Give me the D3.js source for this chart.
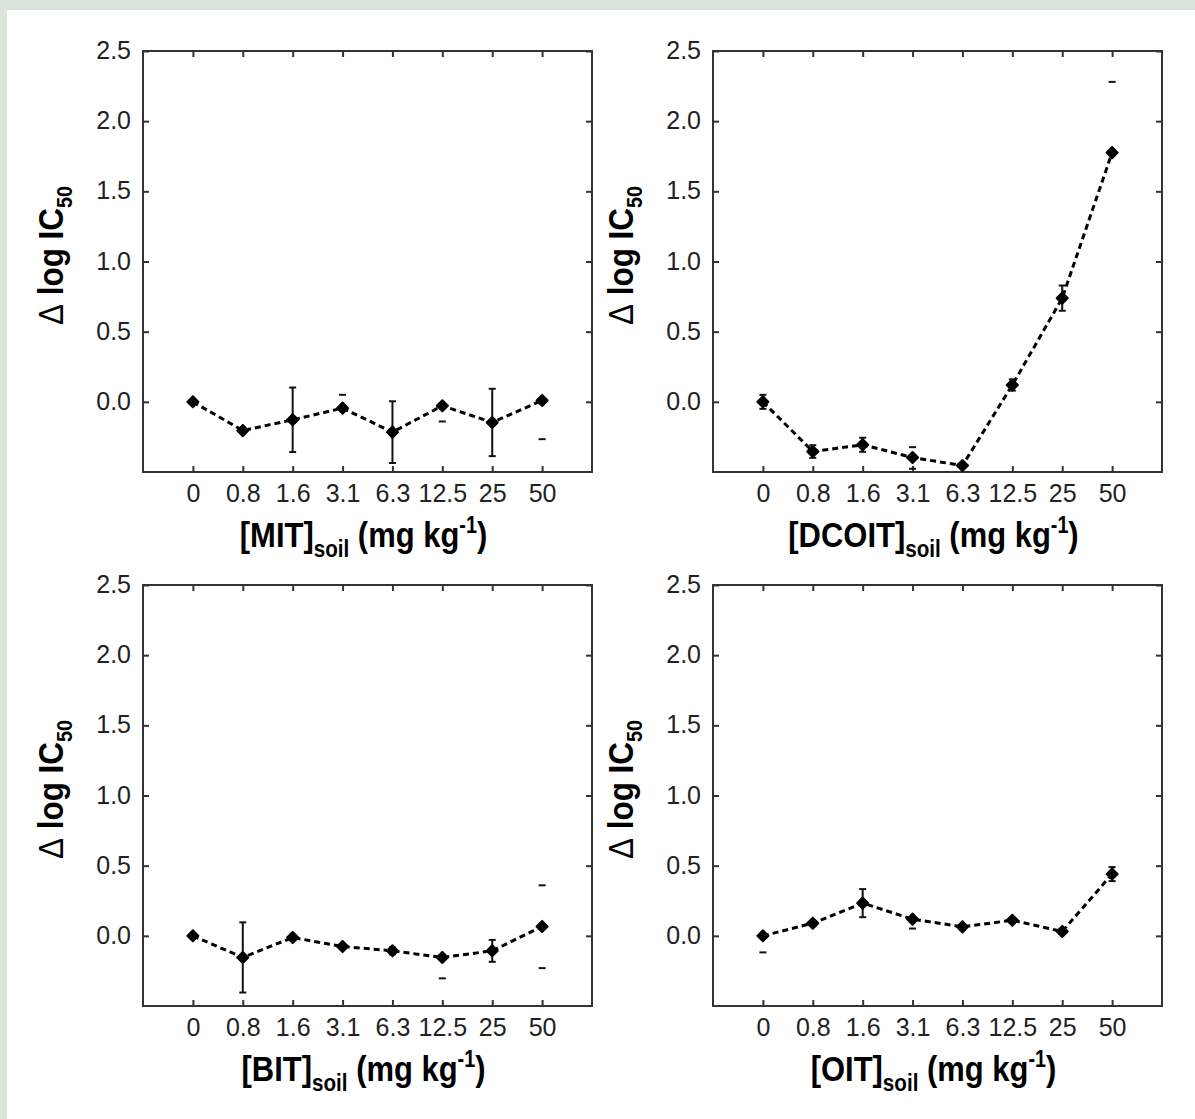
<!DOCTYPE html>
<html>
<head>
<meta charset="utf-8">
<script src="https://cdn.jsdelivr.net/npm/d3@7"></script>
<style>
  html, body { margin: 0; padding: 0; background: #dae4dd; }
  svg { display: block; }
</style>
</head>
<body>
<svg width="1195" height="1119"></svg>
<script>
// dose levels (categorical x axis)
const doses = ['0', '0.8', '1.6', '3.1', '6.3', '12.5', '25', '50']
const yTicks = [0, 0.5, 1.0, 1.5, 2.0, 2.5]

// MIT
const mitMean = [0.00, -0.205, -0.128, -0.045, -0.216, -0.028, -0.147, 0.010]
const mitErr = [0, 0, 0.23, 0, 0.22, 0, 0.24, 0]
const mitLoneCaps = [[], [], [], [0.05], [], [-0.14], [], [-0.266]]

// DCOIT
const dcoitMean = [0.00, -0.354, -0.306, -0.397, -0.454, 0.12, 0.739, 1.776]
const dcoitErr = [0.05, 0.045, 0.05, 0, 0, 0.04, 0.09, 0]
const dcoitLoneCaps = [[], [], [], [-0.323, -0.477], [], [], [], [2.28]]

// BIT
const bitMean = [0.00, -0.154, -0.012, -0.076, -0.107, -0.154, -0.107, 0.067]
const bitErr = [0, 0.25, 0.02, 0, 0.025, 0, 0.078, 0]
const bitLoneCaps = [[], [], [], [], [], [-0.303], [], [0.36, -0.23]]

// OIT
const oitMean = [0.00, 0.09, 0.233, 0.119, 0.064, 0.111, 0.031, 0.44]
const oitErr = [0, 0, 0.1, 0, 0.02, 0, 0.015, 0.05]
const oitLoneCaps = [[-0.118], [], [], [0.052], [], [], [], []]

const panels = [
  {name: 'MIT', mean: mitMean, err: mitErr, caps: mitLoneCaps, x: 143, y: 51},
  {name: 'DCOIT', mean: dcoitMean, err: dcoitErr, caps: dcoitLoneCaps, x: 713, y: 51},
  {name: 'BIT', mean: bitMean, err: bitErr, caps: bitLoneCaps, x: 143, y: 585},
  {name: 'OIT', mean: oitMean, err: oitErr, caps: oitLoneCaps, x: 713, y: 585}
]

const W = 449, H = 421
const font = 'Liberation Sans, Arial, sans-serif'

let svg = d3.select('svg')

// white card
svg.append('rect')
    .attr('x', 7).attr('y', 10)
    .attr('width', 1195 - 7).attr('height', 1119 - 10)
    .attr('fill', '#ffffff')

let x = d3.scaleLinear().domain([-1, 8]).range([0, W])
let y = d3.scaleLinear().domain([-0.5, 2.5]).range([H, 0])

panels.forEach(function(p) {
  let g = svg.append('g')
      .attr('transform', 'translate(' + p.x + ',' + p.y + ')')

  let idx = d3.range(doses.length)

  // axes (ticks point inward)
  let left = g.append('g')
      .call(d3.axisLeft(y).tickValues(yTicks).tickSize(-6).tickPadding(12)
        .tickFormat(d3.format('.1f')))
  let bottom = g.append('g')
      .attr('transform', 'translate(0,' + H + ')')
      .call(d3.axisBottom(x).tickValues(idx).tickSize(-6).tickPadding(12)
        .tickFormat(function(i) { return doses[i] }))
  let right = g.append('g')
      .attr('transform', 'translate(' + W + ',0)')
      .call(d3.axisRight(y).tickValues(yTicks).tickSize(-6).tickFormat(''))
  let top = g.append('g')
      .call(d3.axisTop(x).tickValues(idx).tickSize(-6).tickFormat(''))

  ;[left, bottom, right, top].forEach(function(a) {
    a.select('.domain').remove()
    a.selectAll('line').attr('stroke', '#333').attr('stroke-width', 2)
    a.selectAll('text')
        .attr('font-family', font)
        .attr('font-size', 25)
        .attr('fill', '#222')
  })
  left.selectAll('text').attr('dy', '0.3em')
  bottom.selectAll('text').attr('dy', '0.72em')

  // frame
  g.append('rect')
      .attr('width', W).attr('height', H)
      .attr('fill', 'none')
      .attr('stroke', '#333')
      .attr('stroke-width', 2)

  // dashed connecting line
  let line = d3.line()
      .x(function(d, i) { return x(i) })
      .y(function(d) { return y(d) })
  g.append('path')
      .datum(p.mean)
      .attr('d', line)
      .attr('fill', 'none')
      .attr('stroke', '#000')
      .attr('stroke-width', 3)
      .attr('stroke-dasharray', '6,4')

  // error bars with stems
  let eb = g.append('g').attr('stroke', '#111').attr('stroke-width', 2)
  p.mean.forEach(function(m, i) {
    let e = p.err[i]
    if (!e) return
    eb.append('line')
        .attr('x1', x(i)).attr('x2', x(i))
        .attr('y1', y(m - e)).attr('y2', y(m + e))
    ;[m - e, m + e].forEach(function(v) {
      eb.append('line')
          .attr('x1', x(i) - 3.5).attr('x2', x(i) + 3.5)
          .attr('y1', y(v)).attr('y2', y(v))
    })
  })
  // caps whose stems are missing in the original figure
  p.caps.forEach(function(list, i) {
    list.forEach(function(v) {
      eb.append('line')
          .attr('x1', x(i) - 3.5).attr('x2', x(i) + 3.5)
          .attr('y1', y(v)).attr('y2', y(v))
    })
  })

  // markers
  g.append('g').selectAll('path')
      .data(p.mean)
      .enter().append('path')
      .attr('d', d3.symbol().type(d3.symbolSquare).size(62))
      .attr('transform', function(d, i) {
        return 'translate(' + x(i) + ',' + y(d) + ') rotate(45)'
      })
      .attr('fill', '#000')
      .attr('stroke', '#000')
      .attr('stroke-width', 2)
      .attr('stroke-linejoin', 'round')

  // x axis title
  let xt = g.append('text')
      .attr('transform', 'translate(' + (W / 2 - 4) + ',' + (H + 75) + ') scale(0.86,1)')
      .attr('text-anchor', 'middle')
      .attr('font-family', font)
      .attr('font-weight', 700)
      .attr('font-size', 36)
      .attr('fill', '#000')
  xt.append('tspan').text('[' + p.name + ']')
  xt.append('tspan').attr('font-size', 24).attr('dy', 10).text('soil')
  xt.append('tspan').attr('dy', -10).text(' (mg kg')
  xt.append('tspan').attr('font-size', 23).attr('dy', -14).text('-1')
  xt.append('tspan').attr('dy', 14).text(')')

  // y axis title
  let yt = g.append('text')
      .attr('transform', 'translate(-80,' + (H / 2 - 6) + ') rotate(-90) scale(0.9,1)')
      .attr('text-anchor', 'middle')
      .attr('font-family', font)
      .attr('font-weight', 700)
      .attr('font-size', 35)
      .attr('fill', '#000')
  yt.append('tspan').attr('font-weight', 400).text('\u0394')
  yt.append('tspan').text(' log IC')
  yt.append('tspan').attr('font-size', 22).attr('dy', 9).text('50')
})
</script>
</body>
</html>
